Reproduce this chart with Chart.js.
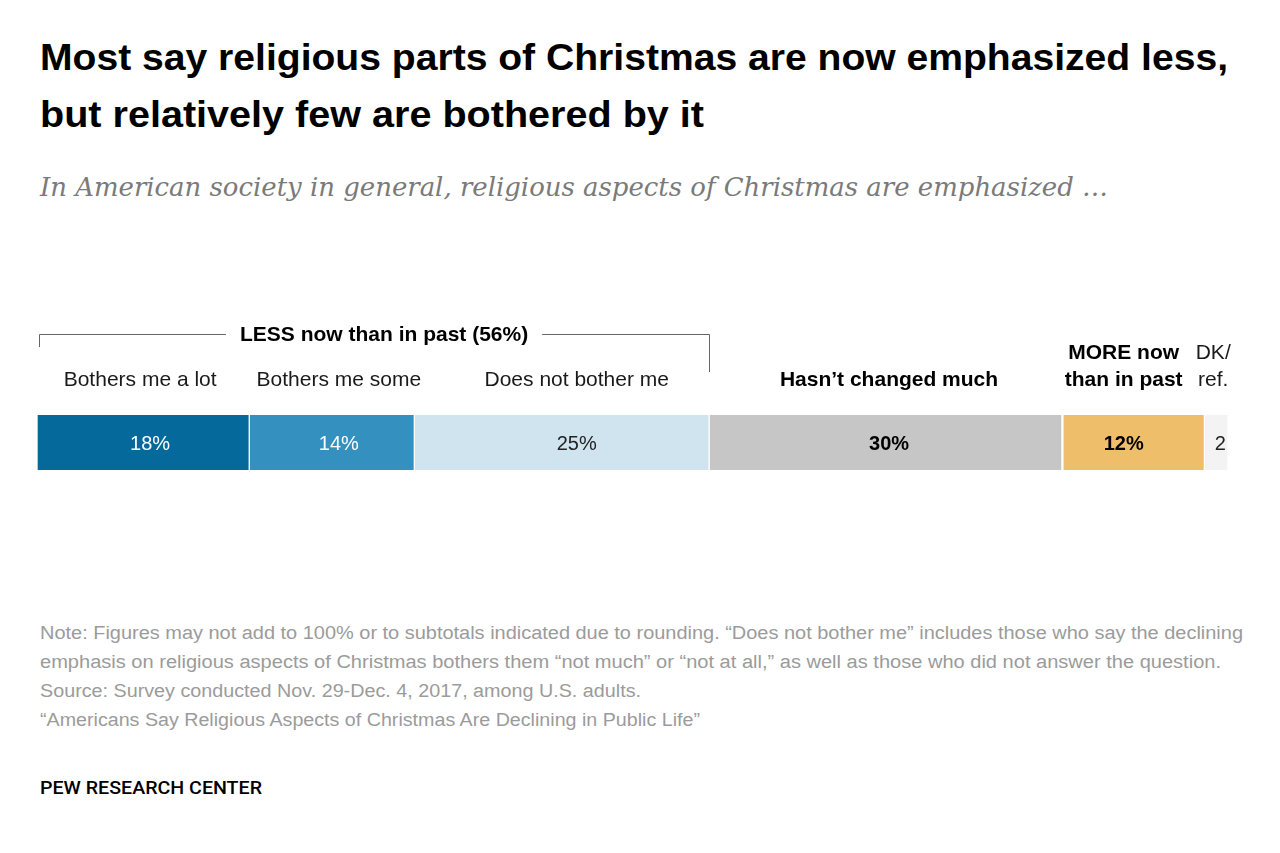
<!DOCTYPE html>
<html>
<head>
<meta charset="utf-8">
<script src="https://cdn.jsdelivr.net/npm/chart.js@4.4.0/dist/chart.umd.min.js"></script>
<style>
  html, body { margin:0; padding:0; background:#fff; }
  body { width:1280px; height:853px; position:relative; overflow:hidden; font-family:"Liberation Sans", Arial, sans-serif; }
  .t { position:absolute; left:40px; white-space:nowrap; line-height:1; transform-origin:0 0; }
  #title1, #title2 { font-weight:bold; font-size:36px; color:#000; }
  #sub { font-family:"DejaVu Serif", "Liberation Serif", serif; font-style:italic; font-size:26px; color:#7a7a7a; }
  .note { font-size:18px; color:#9b9b9b; }
  #pew { font-family:Roboto, "Liberation Sans", sans-serif; font-size:19px; color:#000; font-weight:500; }
  #wrap { position:absolute; left:0; top:300px; width:1280px; height:200px; }
</style>
</head>
<body>
<div class="t" id="title1" data-w="1188" data-b="70">Most say religious parts of Christmas are now emphasized less,</div>
<div class="t" id="title2" data-w="664" data-b="127">but relatively few are bothered by it</div>
<div class="t" id="sub" data-w="1068" data-b="196">In American society in general, religious aspects of Christmas are emphasized …</div>
<div class="t note" data-w="1203" data-b="639">Note: Figures may not add to 100% or to subtotals indicated due to rounding. “Does not bother me” includes those who say the declining</div>
<div class="t note" data-w="1181" data-b="668">emphasis on religious aspects of Christmas bothers them “not much” or “not at all,” as well as those who did not answer the question.</div>
<div class="t note" data-w="601" data-b="697">Source: Survey conducted Nov. 29-Dec. 4, 2017, among U.S. adults.</div>
<div class="t note" data-w="660" data-b="726">“Americans Say Religious Aspects of Christmas Are Declining in Public Life”</div>
<div class="t" id="pew" data-w="222" data-b="794">PEW RESEARCH CENTER</div>
<div id="wrap"><canvas id="c" width="1280" height="200"></canvas></div>
<script>
// ---- data ----
const categories = ["Bothers me a lot", "Bothers me some", "Does not bother me", "Hasn’t changed much", "MORE now than in past", "DK/ref."];
const categoryLines = [["Bothers me a lot"], ["Bothers me some"], ["Does not bother me"], ["Hasn’t changed much"], ["MORE now", "than in past"], ["DK/", "ref."]];
const values = [18, 14, 25, 30, 12, 2];
const valueLabels = ["18%", "14%", "25%", "30%", "12%", "2"];
const groupLabel = "LESS now than in past (56%)";
const groupMembers = [0, 1, 2];
const colors = ["#05699c", "#3490bf", "#d0e4f0", "#c6c6c6", "#efbe6b", "#f3f3f3"];
const valueColors = ["#ffffff", "#ffffff", "#222222", "#000000", "#000000", "#222222"];
const boldCategory = [false, false, false, true, true, false];
const boldValue = [false, false, false, true, true, false];

// fit HTML text
function fitText() {
  document.querySelectorAll('.t').forEach(el => {
    const fs = parseFloat(getComputedStyle(el).fontSize);
    const w = el.getBoundingClientRect().width;
    const tw = parseFloat(el.dataset.w);
    el.style.transform = 'scaleX(' + (tw / w) + ')';
    el.style.top = (parseFloat(el.dataset.b) - 0.846 * fs) + 'px';
  });
}
fitText();

const total = values.reduce((a, b) => a + b, 0);

const labelPlugin = {
  id: 'labels',
  afterDatasetsDraw(chart) {
    const ctx = chart.ctx;
    const xs = chart.scales.x;
    const meta0 = chart.getDatasetMeta(0).data[0];
    const barCenterY = meta0.y;
    // small nudges to match the original's hand placement of labels
    const valNudge = [7, 7, 15, 3, -10, 4];
    const catNudge = [-3, 7, 15, 3, -10, -3];
    let cum = 0;
    const starts = [], ends = [];
    values.forEach(v => { starts.push(xs.getPixelForValue(cum)); cum += v; ends.push(xs.getPixelForValue(cum)); });
    ctx.save();
    ctx.textAlign = 'center';
    ctx.textBaseline = 'alphabetic';
    values.forEach((v, i) => {
      const cx = (starts[i] + ends[i]) / 2 + valNudge[i];
      ctx.font = (boldValue[i] ? 'bold ' : '') + '20px "Liberation Sans", Arial, sans-serif';
      ctx.fillStyle = valueColors[i];
      ctx.fillText(valueLabels[i], cx, barCenterY + 7);
    });
    categoryLines.forEach((lines, i) => {
      const cx = (starts[i] + ends[i]) / 2 + catNudge[i];
      ctx.font = (boldCategory[i] ? 'bold ' : '') + '21px "Liberation Sans", Arial, sans-serif';
      ctx.fillStyle = boldCategory[i] ? '#000' : '#1a1a1a';
      const n = lines.length;
      lines.forEach((ln, k) => {
        ctx.fillText(ln, cx, 86 - (n - 1 - k) * 27);
      });
    });
    // bracket
    const gx0 = starts[groupMembers[0]] + 2;
    const gx1 = ends[groupMembers[groupMembers.length - 1]];
    const gy = 34.5;
    ctx.font = 'bold 21px "Liberation Sans", Arial, sans-serif';
    const tw = ctx.measureText(groupLabel).width;
    const gcx = (gx0 + gx1) / 2 + 10;
    ctx.fillStyle = '#000';
    ctx.fillText(groupLabel, gcx, 41);
    ctx.strokeStyle = '#666';
    ctx.lineWidth = 1;
    ctx.beginPath();
    ctx.moveTo(gx0 + 0.5, 47); ctx.lineTo(gx0 + 0.5, gy); ctx.lineTo(gcx - tw / 2 - 14, gy);
    ctx.moveTo(gcx + tw / 2 + 14, gy); ctx.lineTo(Math.round(gx1) + 0.5, gy); ctx.lineTo(Math.round(gx1) + 0.5, 72);
    ctx.stroke();
    ctx.restore();
  }
};

new Chart(document.getElementById('c'), {
  type: 'bar',
  data: {
    labels: [''],
    datasets: values.map((v, i) => ({
      label: categories[i],
      data: [v],
      backgroundColor: colors[i],
      borderColor: '#ffffff',
      borderWidth: { left: 1, right: i === 3 ? 2 : 1, top: 0, bottom: 0 },
      borderSkipped: false,
      barThickness: 55
    }))
  },
  options: {
    indexAxis: 'y',
    responsive: false,
    animation: false,
    events: [],
    layout: { padding: { left: 37, right: 52, top: 115, bottom: 30 } },
    plugins: { legend: { display: false }, tooltip: { enabled: false } },
    scales: {
      x: { stacked: true, display: false, min: 0, max: total },
      y: { stacked: true, display: false }
    }
  },
  plugins: [labelPlugin]
});
</script>
</body>
</html>
